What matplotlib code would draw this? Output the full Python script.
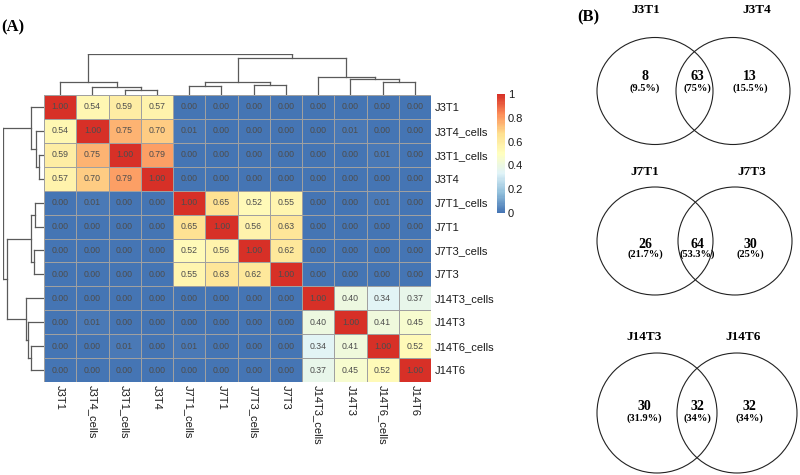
import numpy as np
import matplotlib
matplotlib.use("Agg")
import matplotlib.pyplot as plt
from matplotlib.colors import LinearSegmentedColormap, Normalize
from matplotlib.cm import ScalarMappable
from matplotlib.patches import Ellipse

# ---------------- data ----------------
samples = ["J3T1", "J3T4_cells", "J3T1_cells", "J3T4",
           "J7T1_cells", "J7T1", "J7T3_cells", "J7T3",
           "J14T3_cells", "J14T3", "J14T6_cells", "J14T6"]

row_J3T1 =        [1.00, 0.54, 0.59, 0.57, 0.00, 0.00, 0.00, 0.00, 0.00, 0.00, 0.00, 0.00]
row_J3T4_cells =  [0.54, 1.00, 0.75, 0.70, 0.01, 0.00, 0.00, 0.00, 0.00, 0.01, 0.00, 0.00]
row_J3T1_cells =  [0.59, 0.75, 1.00, 0.79, 0.00, 0.00, 0.00, 0.00, 0.00, 0.00, 0.01, 0.00]
row_J3T4 =        [0.57, 0.70, 0.79, 1.00, 0.00, 0.00, 0.00, 0.00, 0.00, 0.00, 0.00, 0.00]
row_J7T1_cells =  [0.00, 0.01, 0.00, 0.00, 1.00, 0.65, 0.52, 0.55, 0.00, 0.00, 0.01, 0.00]
row_J7T1 =        [0.00, 0.00, 0.00, 0.00, 0.65, 1.00, 0.56, 0.63, 0.00, 0.00, 0.00, 0.00]
row_J7T3_cells =  [0.00, 0.00, 0.00, 0.00, 0.52, 0.56, 1.00, 0.62, 0.00, 0.00, 0.00, 0.00]
row_J7T3 =        [0.00, 0.00, 0.00, 0.00, 0.55, 0.63, 0.62, 1.00, 0.00, 0.00, 0.00, 0.00]
row_J14T3_cells = [0.00, 0.00, 0.00, 0.00, 0.00, 0.00, 0.00, 0.00, 1.00, 0.40, 0.34, 0.37]
row_J14T3 =       [0.00, 0.01, 0.00, 0.00, 0.00, 0.00, 0.00, 0.00, 0.40, 1.00, 0.41, 0.45]
row_J14T6_cells = [0.00, 0.00, 0.01, 0.00, 0.01, 0.00, 0.00, 0.00, 0.34, 0.41, 1.00, 0.52]
row_J14T6 =       [0.00, 0.00, 0.00, 0.00, 0.00, 0.00, 0.00, 0.00, 0.37, 0.45, 0.52, 1.00]

# hierarchical clustering tree (scipy-style: left, right, height); leaves 0..11
linkage = [
    (2, 3, 0.12),    # 12
    (1, 12, 0.20),   # 13
    (0, 13, 0.31),   # 14
    (4, 5, 0.23),    # 15
    (6, 7, 0.25),    # 16
    (15, 16, 0.32),  # 17
    (10, 11, 0.31),  # 18
    (9, 18, 0.39),   # 19
    (8, 19, 0.44),   # 20
    (17, 20, 0.90),  # 21
    (14, 21, 1.00),  # 22
]

colorbar_ticks = [0, 0.2, 0.4, 0.6, 0.8, 1]
colorbar_ticklabels = ["0", "0.2", "0.4", "0.6", "0.8", "1"]

venn_left_names = ["J3T1", "J7T1", "J14T3"]
venn_right_names = ["J3T4", "J7T3", "J14T6"]
venn_only_left = [8, 26, 30]
venn_shared = [63, 64, 32]
venn_only_right = [13, 30, 32]

# ---------------- figure ----------------
W, H = 800, 475
fig = plt.figure(figsize=(W / 100, H / 100), dpi=100)


def px_axes(x0, y0, x1, y1):
    return fig.add_axes([x0 / W, 1 - y1 / H, (x1 - x0) / W, (y1 - y0) / H])


mat = np.array([row_J3T1, row_J3T4_cells, row_J3T1_cells, row_J3T4,
                row_J7T1_cells, row_J7T1, row_J7T3_cells, row_J7T3,
                row_J14T3_cells, row_J14T3, row_J14T6_cells, row_J14T6])
n = len(samples)

pal = ["#4575B4", "#91BFDB", "#E0F3F8", "#FFFFBF", "#FEE090", "#FC8D59", "#D73027"]
cmap = LinearSegmentedColormap.from_list("rdylbu_r", pal, N=100)
norm = Normalize(0, 1)
SANS = "Liberation Sans"
SERIF = "Liberation Serif"

# heatmap
hx0, hy0, hx1, hy1 = 44, 95, 431, 382
axh = px_axes(hx0, hy0, hx1, hy1)
axh.pcolormesh(np.arange(n + 1), np.arange(n + 1), mat, cmap=cmap, norm=norm,
               edgecolors="#a0a0a0", linewidth=0.7)
axh.set_xlim(0, n)
axh.set_ylim(n, 0)
for i in range(n):
    for j in range(n):
        axh.text(j + 0.5, i + 0.5, f"{mat[i, j]:.2f}", ha="center", va="center",
                 fontsize=6.3, color="#4d4d4d", family=SANS)
axh.set_xticks(np.arange(n) + 0.5)
axh.set_yticks(np.arange(n) + 0.5)
axh.set_xticklabels(samples, rotation=270, fontsize=8, family=SANS, color="#1a1a1a")
axh.set_yticklabels(samples, fontsize=8, family=SANS, color="#1a1a1a")
axh.yaxis.tick_right()
axh.tick_params(length=0, pad=2.5)
for s in axh.spines.values():
    s.set_visible(False)


# dendrograms
def dendro_segments(link, nleaf):
    pos = {i: i + 0.5 for i in range(nleaf)}
    hgt = {i: 0.0 for i in range(nleaf)}
    segs = []
    for k, (a, b, h) in enumerate(link):
        node = nleaf + k
        segs.append(((pos[a], hgt[a]), (pos[a], h)))
        segs.append(((pos[b], hgt[b]), (pos[b], h)))
        segs.append(((pos[a], h), (pos[b], h)))
        pos[node] = (pos[a] + pos[b]) / 2
        hgt[node] = h
    return segs


segs = dendro_segments(linkage, n)
root_h = linkage[-1][2]
dcol = "#5a5a5a"

axt = px_axes(hx0, 54, hx1, hy0)
for (x0, y0), (x1, y1) in segs:
    axt.plot([x0, x1], [y0, y1], color=dcol, lw=0.9, solid_capstyle="projecting")
axt.set_xlim(0, n)
axt.set_ylim(0, root_h)
axt.axis("off")

axl = px_axes(3, hy0, hx0, hy1)
for (x0, y0), (x1, y1) in segs:
    axl.plot([y0, y1], [x0, x1], color=dcol, lw=0.9, solid_capstyle="projecting")
axl.set_ylim(n, 0)
axl.set_xlim(root_h, 0)
axl.axis("off")

# colorbar
axc = px_axes(497, 94, 505, 213)
cb = fig.colorbar(ScalarMappable(norm=norm, cmap=cmap), cax=axc, ticks=colorbar_ticks)
cb.outline.set_visible(False)
cb.ax.set_yticklabels(colorbar_ticklabels, fontsize=8, family=SANS, color="#1a1a1a")
cb.ax.tick_params(length=0, pad=2)

# panel labels
fig.text(1 / W, 1 - 27 / H, "(A)", fontsize=12, fontweight="bold", family=SERIF,
         va="center", ha="left")
fig.text(577 / W, 1 - 17 / H, "(B)", fontsize=12, fontweight="bold", family=SERIF,
         va="center", ha="left")

# venn diagrams (pixel-space axes)
axv = px_axes(0, 0, W, H)
axv.set_xlim(0, W)
axv.set_ylim(H, 0)
axv.axis("off")

# layout: left ellipse (cx, w), right ellipse (cx, w), cy, h
venn_shapes = [
    (655, 116, 733, 114, 91, 107),
    (655, 116, 735, 114, 241, 108),
    (657, 120, 737, 120, 413, 120),
]
venn_title_pos = [(646, 757, 10), (645, 752, 172), (644, 743, 337)]
venn_text_x = [(645, 697, 750), (645, 697, 750), (644, 697, 749)]
venn_text_y = [(77, 88), (244, 254), (407, 418)]


def pct(v, tot):
    s = f"{100 * v / tot:.1f}"
    if s.endswith(".0"):
        s = s[:-2]
    return f"({s}%)"


for k in range(3):
    lcx, lw_, rcx, rw_, cy, hh = venn_shapes[k]
    tot = venn_only_left[k] + venn_shared[k] + venn_only_right[k]
    axv.add_patch(Ellipse((lcx, cy), lw_, hh, fill=False, lw=0.8, ec="#222222"))
    axv.add_patch(Ellipse((rcx, cy), rw_, hh, fill=False, lw=0.8, ec="#222222"))
    tlx, trx, ty = venn_title_pos[k]
    axv.text(tlx, ty, venn_left_names[k], ha="center", va="center",
             fontsize=9.5, fontweight="bold", family=SERIF)
    axv.text(trx, ty, venn_right_names[k], ha="center", va="center",
             fontsize=9.5, fontweight="bold", family=SERIF)
    vals = [venn_only_left[k], venn_shared[k], venn_only_right[k]]
    ny, py = venn_text_y[k]
    for x, v in zip(venn_text_x[k], vals):
        axv.text(x, ny, str(v), ha="center", va="center", fontsize=10,
                 fontweight="bold", family=SERIF)
        axv.text(x, py, pct(v, tot), ha="center", va="center", fontsize=7.5,
                 fontweight="bold", family=SERIF)

fig.savefig("out.png", dpi=100)
